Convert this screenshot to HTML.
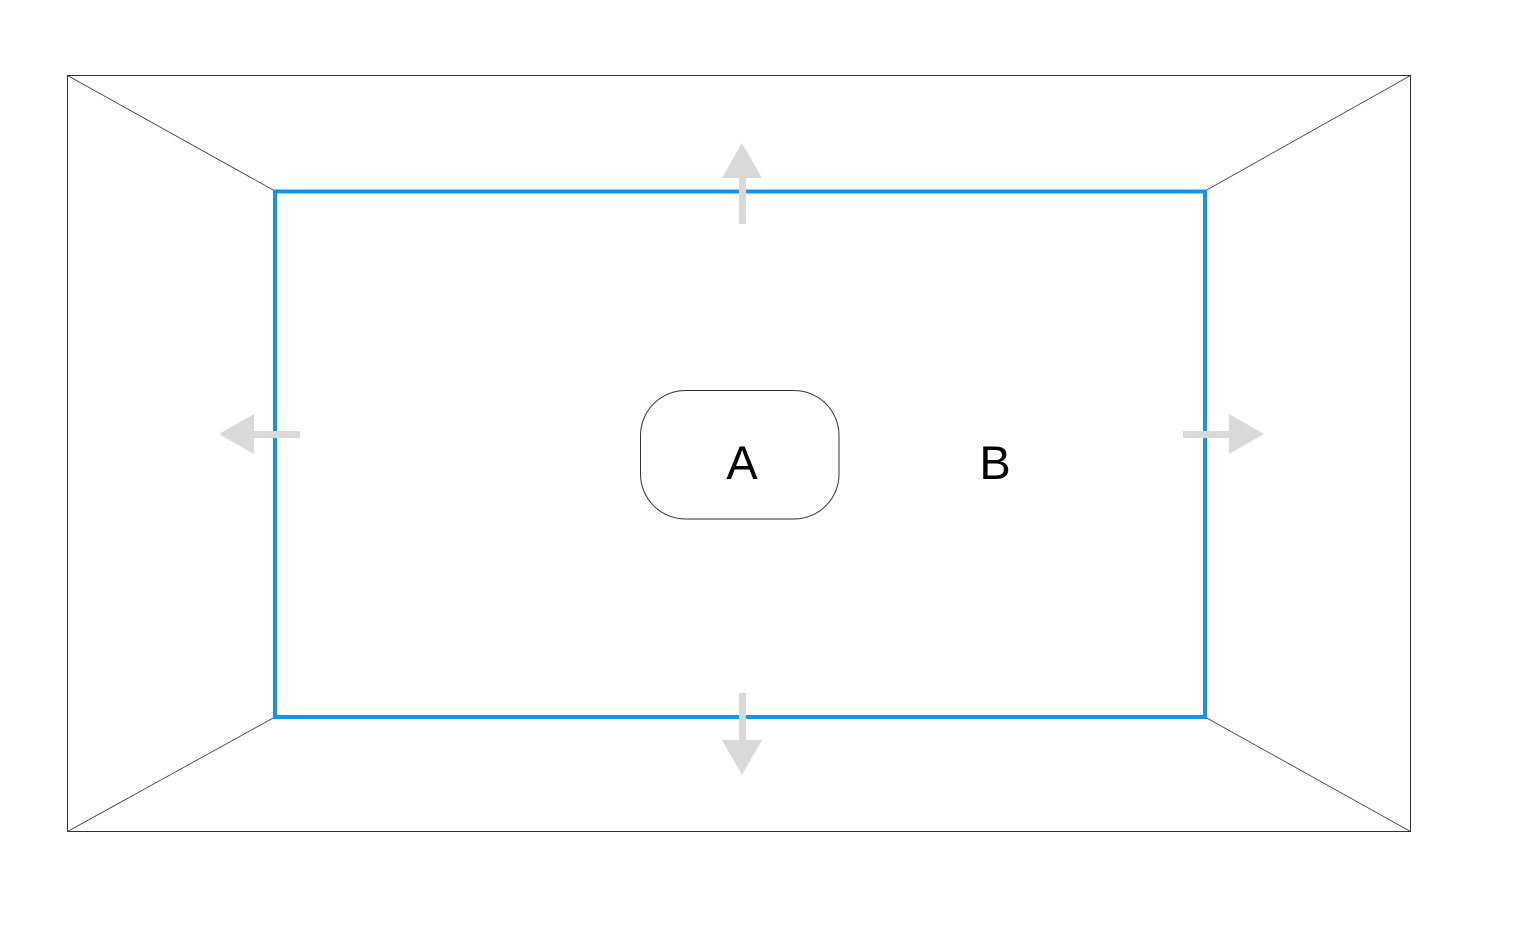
<!DOCTYPE html>
<html>
<head>
<meta charset="utf-8">
<style>
  html, body { margin: 0; padding: 0; background: #ffffff; }
  svg { display: block; }
  text { font-family: "Liberation Sans", "DejaVu Sans", sans-serif; }
</style>
</head>
<body>
<svg width="1514" height="928" viewBox="0 0 1514 928">
  <rect x="0" y="0" width="1514" height="928" fill="#ffffff"/>
  <rect x="67.5" y="75.5" width="1343" height="756" fill="none" stroke="#333" stroke-width="1"/>
  <g stroke="#333" stroke-width="0.8">
    <line x1="67.5" y1="75.5" x2="275" y2="191"/>
    <line x1="1410.5" y1="75.5" x2="1205" y2="191"/>
    <line x1="67.5" y1="831.5" x2="275" y2="717"/>
    <line x1="1410.5" y1="831.5" x2="1205" y2="717"/>
  </g>
  <rect x="275" y="191.5" width="930" height="525.5" fill="none" stroke="#1493f0" stroke-width="4"/>
  <g fill="#d9d9d9">
    <g>
      <polygon points="742,143 762,178 722,178"/>
      <rect x="739" y="177" width="7" height="47"/>
    </g>
    <g>
      <polygon points="742,775 762,740 722,740"/>
      <rect x="739" y="693" width="7" height="48"/>
    </g>
    <g>
      <polygon points="219,434 254,414 254,454"/>
      <rect x="253" y="431" width="47" height="7"/>
    </g>
    <g>
      <polygon points="1264,434 1229,414 1229,454"/>
      <rect x="1183" y="431" width="47" height="7"/>
    </g>
  </g>
  <rect x="640.5" y="390.5" width="198.5" height="128.5" rx="45" ry="45" fill="#fff" stroke="#333" stroke-width="1"/>
  <text x="742" y="479" font-size="47" text-anchor="middle" fill="#000">A</text>
  <text x="995" y="479" font-size="47" text-anchor="middle" fill="#000">B</text>
</svg>
</body>
</html>
